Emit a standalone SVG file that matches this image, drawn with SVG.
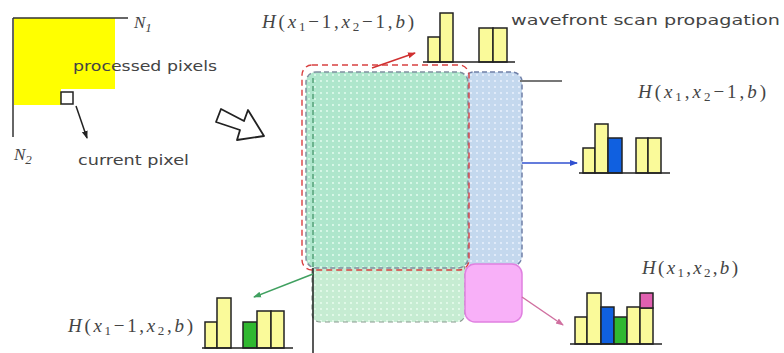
<svg xmlns="http://www.w3.org/2000/svg" width="784" height="353" viewBox="0 0 784 353">
<defs>
<pattern id="dotsG" width="6" height="6" patternUnits="userSpaceOnUse">
<rect width="6" height="6" fill="#aee6cc"/>
<circle cx="3" cy="3" r="0.9" fill="#e8fff4"/>
</pattern>
<pattern id="dotsG2" width="6" height="6" patternUnits="userSpaceOnUse">
<rect width="6" height="6" fill="#c6ecd2"/>
<circle cx="3" cy="3" r="0.9" fill="#eefff2"/>
</pattern>
<pattern id="dotsB" width="6" height="6" patternUnits="userSpaceOnUse">
<rect width="6" height="6" fill="#c4d8ee"/>
<circle cx="3" cy="3" r="0.9" fill="#eef4ff"/>
</pattern>
<marker id="ahRed" markerWidth="8" markerHeight="8" refX="7" refY="4" orient="auto" markerUnits="userSpaceOnUse"><path d="M0,1 L8,4 L0,7 Z" fill="#d03030"/></marker>
<marker id="ahBlue" markerWidth="8" markerHeight="8" refX="7" refY="4" orient="auto" markerUnits="userSpaceOnUse"><path d="M0,1 L8,4 L0,7 Z" fill="#3050d0"/></marker>
<marker id="ahGreen" markerWidth="8" markerHeight="8" refX="7" refY="4" orient="auto" markerUnits="userSpaceOnUse"><path d="M0,1 L8,4 L0,7 Z" fill="#40a060"/></marker>
<marker id="ahPink" markerWidth="8" markerHeight="8" refX="7" refY="4" orient="auto" markerUnits="userSpaceOnUse"><path d="M0,1 L8,4 L0,7 Z" fill="#d070a0"/></marker>
<marker id="ahBlack" markerWidth="8" markerHeight="8" refX="7" refY="4" orient="auto" markerUnits="userSpaceOnUse"><path d="M0,1 L8,4 L0,7 Z" fill="#222"/></marker>
</defs>
<style>
.txt{font-family:"DejaVu Sans",sans-serif;font-size:14px;fill:#444}
.math{font-family:"Liberation Serif",serif;font-size:19px;fill:#444}
.it{font-style:italic}
.sub{font-size:13px}
.y{fill:#fafa9a;stroke:#222;stroke-width:1.5}
.bl{fill:#1060e0;stroke:#222;stroke-width:1.5}
.gr{fill:#30b830;stroke:#222;stroke-width:1.5}
.pk{fill:#e060b0;stroke:#222;stroke-width:1.5}
.base{stroke:#222;stroke-width:1.5}
</style>
<rect width="784" height="353" fill="#fff"/>

<g id="inset">
<path d="M14,18 H115 V89 H61 V105 H14 Z" fill="#ffff00"/>
<line x1="13" y1="18" x2="128" y2="18" stroke="#333" stroke-width="1.5"/>
<line x1="13" y1="18" x2="13" y2="137" stroke="#333" stroke-width="1.5"/>
<rect x="61" y="92" width="12" height="12" fill="#fff" stroke="#222" stroke-width="1.5"/>
<text class="math it" x="134" y="28" style="font-size:17px">N<tspan class="sub" dy="4">1</tspan></text>
<text class="math it" x="14" y="160" style="font-size:17px">N<tspan class="sub" dy="4">2</tspan></text>
<text class="txt" x="73" y="71" textLength="144" lengthAdjust="spacingAndGlyphs">processed pixels</text>
<text class="txt" x="78" y="165" textLength="111" lengthAdjust="spacingAndGlyphs">current pixel</text>
</g>

<g id="bigArrow">
<polygon points="221,109 244,121 248,110 264,136 237,140 240,130 216,122" fill="#fff" stroke="#222" stroke-width="1.8" stroke-linejoin="round"/>
</g>

<g id="regions">
<rect x="312" y="262" width="153" height="60" rx="8" fill="url(#dotsG2)" stroke="#8a9a90" stroke-width="1.2" stroke-dasharray="5,4"/>
<rect x="464" y="72" width="58" height="194" rx="10" fill="url(#dotsB)" stroke="#7080a8" stroke-width="1.5" stroke-dasharray="5,3"/>
<rect x="306" y="72" width="162" height="196" rx="10" fill="url(#dotsG)" stroke="#8090a0" stroke-width="1.5" stroke-dasharray="5,3"/>
<line x1="313" y1="78" x2="313" y2="268" stroke="#2a8050" stroke-width="1" stroke-dasharray="5,3"/>
<rect x="302" y="65" width="167" height="205" rx="10" fill="none" stroke="#d84040" stroke-width="1.4" stroke-dasharray="6,4"/>
<rect x="465" y="264" width="57" height="58" rx="10" fill="#f8b0f8" stroke="#e080e0" stroke-width="1.5"/>
<line x1="313" y1="268" x2="313" y2="353" stroke="#222" stroke-width="1.5"/>
<line x1="520" y1="81" x2="562" y2="81" stroke="#777" stroke-width="2"/>
</g>

<g id="histTop">
<rect class="y" x="428" y="37" width="12" height="25"/>
<rect class="y" x="440" y="13" width="13" height="49"/>
<rect class="y" x="479" y="28" width="14" height="34"/>
<rect class="y" x="493" y="28" width="14" height="34"/>
<line class="base" x1="423" y1="62" x2="515" y2="62"/>
<text class="math" x="262" y="28" textLength="152" lengthAdjust="spacing"><tspan class="it">H</tspan>(<tspan class="it">x</tspan><tspan class="sub" dy="3">1</tspan><tspan dy="-3">−1,</tspan><tspan class="it">x</tspan><tspan class="sub" dy="3">2</tspan><tspan dy="-3">−1,</tspan><tspan class="it">b</tspan>)</text>
<text class="txt" x="511" y="25" textLength="269" lengthAdjust="spacingAndGlyphs">wavefront scan propagation</text>
</g>

<g id="histRight">
<rect class="y" x="583" y="148" width="12" height="25"/>
<rect class="y" x="595" y="124" width="13" height="49"/>
<rect class="bl" x="608" y="138" width="14" height="35"/>
<rect class="y" x="636" y="138" width="12" height="35"/>
<rect class="y" x="648" y="138" width="13" height="35"/>
<line class="base" x1="579" y1="173" x2="670" y2="173"/>
<text class="math" x="638" y="98" textLength="128" lengthAdjust="spacing"><tspan class="it">H</tspan>(<tspan class="it">x</tspan><tspan class="sub" dy="3">1</tspan><tspan dy="-3">,</tspan><tspan class="it">x</tspan><tspan class="sub" dy="3">2</tspan><tspan dy="-3">−1,</tspan><tspan class="it">b</tspan>)</text>
</g>

<g id="histLeft">
<rect class="y" x="205" y="322" width="12" height="26"/>
<rect class="y" x="217" y="298" width="14" height="50"/>
<rect class="gr" x="243" y="322" width="14" height="26"/>
<rect class="y" x="257" y="311" width="14" height="37"/>
<rect class="y" x="271" y="311" width="13" height="37"/>
<line class="base" x1="202" y1="348" x2="293" y2="348"/>
<text class="math" x="68" y="332" textLength="125" lengthAdjust="spacing"><tspan class="it">H</tspan>(<tspan class="it">x</tspan><tspan class="sub" dy="3">1</tspan><tspan dy="-3">−1,</tspan><tspan class="it">x</tspan><tspan class="sub" dy="3">2</tspan><tspan dy="-3">,</tspan><tspan class="it">b</tspan>)</text>
</g>

<g id="histBottomRight">
<rect class="y" x="575" y="317" width="12" height="27"/>
<rect class="y" x="587" y="293" width="14" height="51"/>
<rect class="bl" x="601" y="307" width="13" height="37"/>
<rect class="gr" x="614" y="317" width="13" height="27"/>
<rect class="y" x="627" y="307" width="13" height="37"/>
<rect class="y" x="640" y="308" width="13" height="36"/>
<rect class="pk" x="640" y="293" width="13" height="15"/>
<line class="base" x1="570" y1="344" x2="662" y2="344"/>
<text class="math" x="642" y="274" textLength="96" lengthAdjust="spacing"><tspan class="it">H</tspan>(<tspan class="it">x</tspan><tspan class="sub" dy="3">1</tspan><tspan dy="-3">,</tspan><tspan class="it">x</tspan><tspan class="sub" dy="3">2</tspan><tspan dy="-3">,</tspan><tspan class="it">b</tspan>)</text>
</g>

<g id="connectors" fill="none" stroke-width="1.5">
<line x1="76" y1="106" x2="87" y2="138" stroke="#222" marker-end="url(#ahBlack)"/>
<line x1="372" y1="68" x2="415" y2="53" stroke="#d03030" marker-end="url(#ahRed)"/>
<line x1="522" y1="163" x2="577" y2="163" stroke="#3050d0" marker-end="url(#ahBlue)"/>
<line x1="313" y1="274" x2="254" y2="297" stroke="#40a060" marker-end="url(#ahGreen)"/>
<line x1="522" y1="297" x2="563" y2="325" stroke="#d070a0" marker-end="url(#ahPink)"/>
</g>
</svg>
